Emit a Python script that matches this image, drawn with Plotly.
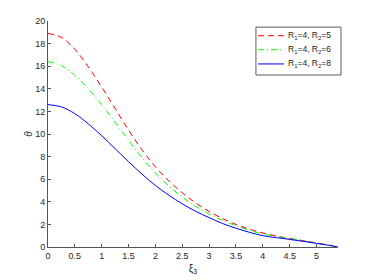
import plotly.graph_objects as go

xi = [0, 0.25, 0.5, 0.75, 1.0, 1.25, 1.5, 1.75, 2.0, 2.25, 2.5, 2.75, 3.0,
      3.25, 3.5, 3.75, 4.0, 4.25, 4.5, 4.75, 5.0, 5.25, 5.4]
theta_r5 = [18.9, 18.55, 17.5, 15.95, 14.15, 12.25, 10.35, 8.6, 7.1, 5.85, 4.8, 3.9, 3.15,
            2.52, 2.0, 1.58, 1.24, 0.98, 0.76, 0.56, 0.36, 0.16, 0.0]
theta_r6 = [16.4, 16.05, 15.2, 14.0, 12.6, 11.05, 9.45, 7.9, 6.55, 5.4, 4.42, 3.6, 2.92,
            2.36, 1.88, 1.48, 1.16, 0.93, 0.73, 0.54, 0.34, 0.14, 0.0]
theta_r8 = [12.6, 12.4, 11.8, 10.9, 9.85, 8.7, 7.55, 6.45, 5.45, 4.58, 3.82, 3.16, 2.6,
            2.08, 1.66, 1.3, 1.0, 0.83, 0.67, 0.5, 0.32, 0.13, 0.0]
names = ["R<sub>1</sub>=4, R<sub>2</sub>=5",
         "R<sub>1</sub>=4, R<sub>2</sub>=6",
         "R<sub>1</sub>=4, R<sub>2</sub>=8"]
colors = ["#FF0000", "#00FF00", "#0000FF"]
dashes = ["6px,4px", "6px,3px,1px,3px", "solid"]
xticks = [0, 0.5, 1, 1.5, 2, 2.5, 3, 3.5, 4, 4.5, 5]
yticks = [0, 2, 4, 6, 8, 10, 12, 14, 16, 18, 20]

font = "Liberation Sans, Arial, sans-serif"
fig = go.Figure()
for ys, nm, c, d in zip([theta_r5, theta_r6, theta_r8], names, colors, dashes):
    fig.add_trace(go.Scatter(x=xi, y=ys, mode="lines", name=nm, showlegend=False,
                             line=dict(color=c, width=1, dash=d, shape="spline")))

# legend box drawn in paper coordinates (MATLAB-style compact legend)
fig.add_shape(type="rect", xref="paper", yref="paper", x0=0.717, x1=1.0103, y0=0.761, y1=0.973,
              line=dict(color="#333333", width=0.8), fillcolor="white", layer="above")
rows = [0.935, 0.873, 0.810]
for ry, nm, c, d in zip(rows, names, colors, dashes):
    fig.add_shape(type="line", xref="paper", yref="paper", x0=0.724, x1=0.814, y0=ry, y1=ry,
                  line=dict(color=c, width=1, dash=d), layer="above")
    fig.add_annotation(xref="paper", yref="paper", x=0.822, y=ry, text=nm, showarrow=False,
                       xanchor="left", yanchor="middle",
                       font=dict(family=font, size=8.5, color="#262626"))

axis_common = dict(showgrid=False, zeroline=False, showline=True, linecolor="#555555",
                   linewidth=1, ticks="inside", ticklen=3, tickcolor="#555555",
                   automargin=False,
                   tickfont=dict(family=font, size=9, color="#262626"))
fig.update_layout(
    width=366, height=272,
    margin=dict(l=40, r=36, t=13, b=33),
    paper_bgcolor="white", plot_bgcolor="white",
    font=dict(family=font, size=9, color="#262626"),
    xaxis=dict(range=[0, 5.4], tickvals=xticks, ticktext=[str(t) for t in xticks],
               title=dict(text="ξ<sub>3</sub>", font=dict(family=font, size=10), standoff=5),
               **axis_common),
    yaxis=dict(range=[0, 20], tickvals=yticks, ticktext=[str(t) for t in yticks],
               title=dict(text="<i>θ</i>", font=dict(family=font, size=10), standoff=0),
               **axis_common),
    showlegend=False,
)
fig.write_html("out.html")
